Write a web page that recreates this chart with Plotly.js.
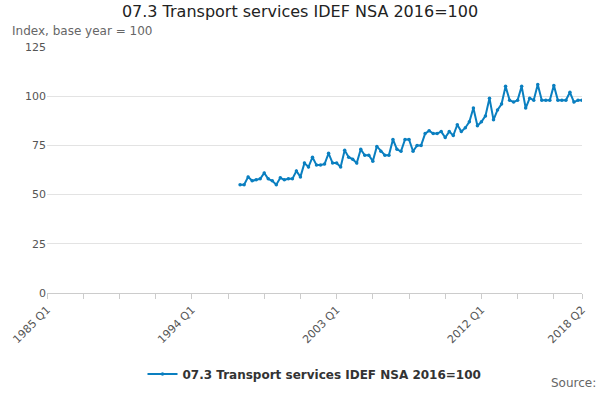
<!DOCTYPE html>
<html>
<head>
<meta charset="utf-8">
<script src="https://cdn.plot.ly/plotly-3.0.1.min.js"></script>
<style>body{margin:0}#chart{width:600px;height:400px}</style>
</head>
<body>
<div id="chart"></div>
<script>
const firstYear = 1985;
const dataStartYear = 1997;
const seriesName = "07.3 Transport services IDEF NSA 2016=100";
const values = [
  55, 55, 59, 57,
  57.5, 58, 61, 58,
  57, 55, 58.5, 57.5,
  58, 58, 62, 59,
  66, 64, 69, 65,
  65, 65.5, 71, 66,
  66, 64, 72.5, 69,
  68, 66, 73, 70,
  70, 67, 74.5, 72,
  70, 70, 78, 73,
  72, 78, 78, 72,
  75, 75, 81, 82.5,
  81, 81, 82, 79,
  82, 80, 85.5, 82,
  84, 87, 94, 85,
  87, 90, 99, 88,
  93, 96, 105, 98,
  97, 98, 105, 94,
  99, 98, 106, 98,
  98, 98, 105.5, 98,
  98, 98, 102, 97,
  98, 98
];
const labelTicks = ["1985 Q1", "1994 Q1", "2003 Q1", "2012 Q1", "2018 Q2"];

// full quarter list for the axis
const allQuarters = [];
for (let y = firstYear; y <= 2018; y++) {
  for (let q = 1; q <= 4; q++) {
    if (y === 2018 && q > 2) break;
    allQuarters.push(y + " Q" + q);
  }
}
const startIdx = allQuarters.indexOf(dataStartYear + " Q1");
const quarters = allQuarters.slice(startIdx, startIdx + values.length);

const tickVals = allQuarters.filter((q, i) => i % 9 === 0 || i === allQuarters.length - 1);
const tickText = tickVals.map((q) => (labelTicks.includes(q) ? q : ""));

const trace = {
  x: quarters,
  y: values,
  name: seriesName,
  type: "scatter",
  mode: "lines+markers",
  line: { color: "#0a7fc0", width: 2 },
  marker: { color: "#0a7fc0", size: 3.5 },
};

const layout = {
  width: 600,
  height: 400,
  margin: { l: 47, r: 18, t: 47, b: 93 },
  font: { family: "DejaVu Sans, sans-serif", color: "#444", size: 11 },
  title: { text: seriesName, x: 0.5, y: 0.985, yanchor: "top", font: { size: 16, color: "#222" } },
  xaxis: {
    type: "category",
    categoryorder: "array",
    categoryarray: allQuarters,
    range: [0, allQuarters.length - 1],
    tickvals: tickVals,
    ticktext: tickText,
    tickangle: -45,
    ticks: "outside",
    ticklen: 5,
    tickcolor: "#ccc",
    showgrid: false,
    showline: true,
    linecolor: "#ccc",
    tickfont: { size: 11, color: "#555" },
  },
  yaxis: {
    range: [0, 125],
    tickvals: [0, 25, 50, 75, 100, 125],
    gridcolor: "#e3e3e3",
    zeroline: false,
    ticks: "",
    tickfont: { size: 11, color: "#555" },
  },
  showlegend: true,
  legend: {
    orientation: "h",
    x: 0.5,
    xanchor: "center",
    y: -0.27,
    yanchor: "top",
    font: { size: 12, color: "#333", weight: "bold" },
  },
  annotations: [
    { text: "Index, base year = 100", xref: "paper", yref: "paper", x: -0.07, y: 1.03,
      xanchor: "left", yanchor: "bottom", showarrow: false, font: { size: 12, color: "#666" } },
    { text: "Source:", xref: "paper", yref: "paper", x: 1.03, y: -0.33,
      xanchor: "right", yanchor: "top", showarrow: false, font: { size: 12, color: "#666" } },
  ],
};

Plotly.newPlot("chart", [trace], layout, { displayModeBar: false });
</script>
</body>
</html>
